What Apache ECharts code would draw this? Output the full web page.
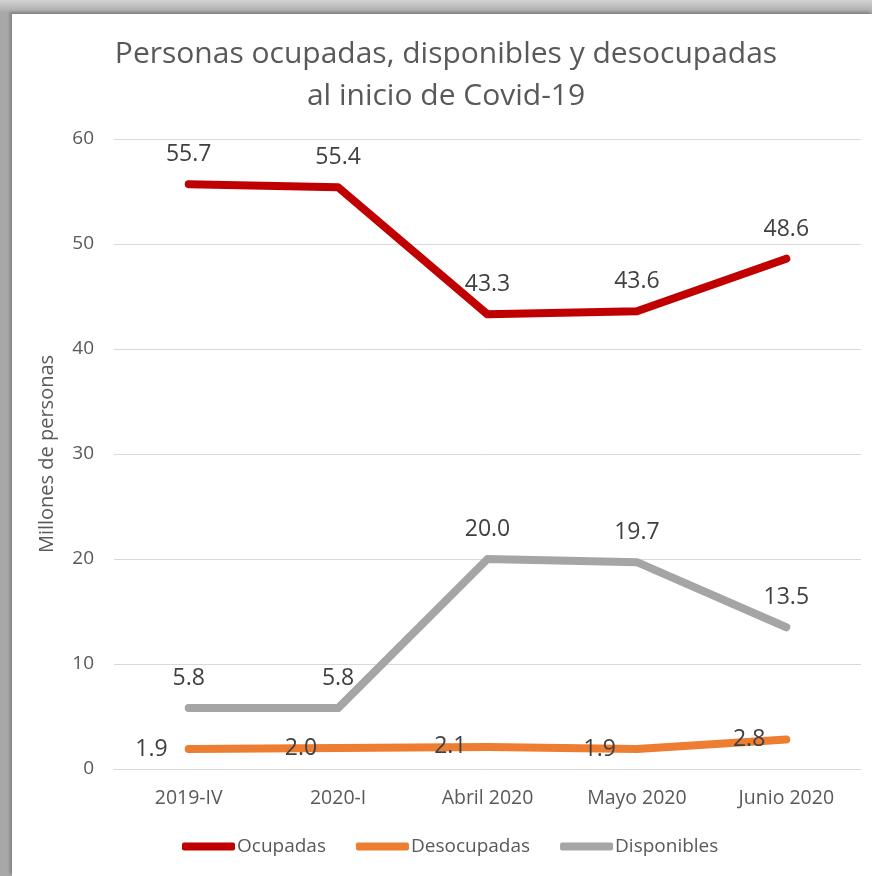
<!DOCTYPE html>
<html><head><meta charset="utf-8">
<script src="https://cdn.jsdelivr.net/npm/echarts@6/dist/echarts.min.js"></script>
<style>
html,body{margin:0;padding:0;width:872px;height:876px;overflow:hidden;}
#frame{position:absolute;left:0;top:0;width:872px;height:876px;
 background:linear-gradient(to bottom,#d4d4d4 0px,#a8a8a8 13px,#a8a8a8 876px);}
#paper{position:absolute;left:12px;top:14px;width:860px;height:862px;background:#fff;
 box-shadow:-2px -2px 3px rgba(0,0,0,0.25);}
#chart{position:absolute;left:0;top:0;width:872px;height:876px;}
</style></head>
<body>
<div id="frame"></div><div id="paper"></div>
<div id="chart"></div>
<script>
const categories = ['2019-IV','2020-I','Abril 2020','Mayo 2020','Junio 2020'];
const ocupadas = [55.7,55.4,43.3,43.6,48.6];
const desocupadas = [1.9,2.0,2.1,1.9,2.8];
const disponibles = [5.8,5.8,20.0,19.7,13.5];
const yTicks = [0,10,20,30,40,50,60];

const FONT = '"Open Sans", sans-serif';
const chart = echarts.init(document.getElementById('chart'), null, {renderer:'canvas'});
const lbl = (pos, dist) => ({show:true, position:pos, distance:dist, color:'#404040',
  fontSize:23, fontFamily:FONT, formatter:p=>Number(p.value).toFixed(1)});
const mk = (name, data, color, pos, dist) => ({
  name, type:'line', data, color, symbol:'circle', symbolSize:2, showSymbol:true,
  itemStyle:{color}, lineStyle:{width:8, color, cap:'round', join:'round'},
  label:lbl(pos, dist), emphasis:{disabled:true}, z:2});
chart.setOption({
  backgroundColor:'transparent',
  animation:false,
  title:{text:'Personas ocupadas, disponibles y desocupadas\nal inicio de Covid-19',
    left:441, top:28, textAlign:'center',
    textStyle:{fontFamily:FONT, fontSize:30, fontWeight:'normal', color:'#595959', lineHeight:42}},
  legend:{left:177, top:832, itemWidth:53, itemHeight:8, itemGap:30,
    icon:'roundRect',
    textStyle:{fontFamily:FONT, fontSize:19, color:'#595959', padding:[0,0,0,-3]},
    data:['Ocupadas','Desocupadas','Disponibles']},
  grid:{left:114, right:11, top:139, bottom:107, containLabel:false},
  xAxis:{type:'category', data:categories, boundaryGap:true,
    axisLine:{show:true, lineStyle:{color:'#d9d9d9', width:1}},
    axisTick:{show:false},
    axisLabel:{fontFamily:FONT, fontSize:19.5, color:'#595959', margin:19}},
  yAxis:{type:'value', min:0, max:60, interval:10,
    name:'Millones de personas', nameLocation:'middle', nameGap:57, nameRotate:90,
    nameTextStyle:{fontFamily:FONT, fontSize:20, color:'#595959'},
    axisLine:{show:false}, axisTick:{show:false},
    splitLine:{lineStyle:{color:'#d9d9d9', width:1}},
    axisLabel:{fontFamily:FONT, fontSize:19, color:'#595959', margin:20,
      formatter:v=>yTicks.includes(v)?String(v):''}},
  series:[
    mk('Ocupadas', ocupadas, '#C00000', 'top', 17),
    mk('Desocupadas', desocupadas, '#ED7D31', 'left', 20),
    mk('Disponibles', disponibles, '#A5A5A5', 'top', 17)
  ]
});
</script>
</body></html>
